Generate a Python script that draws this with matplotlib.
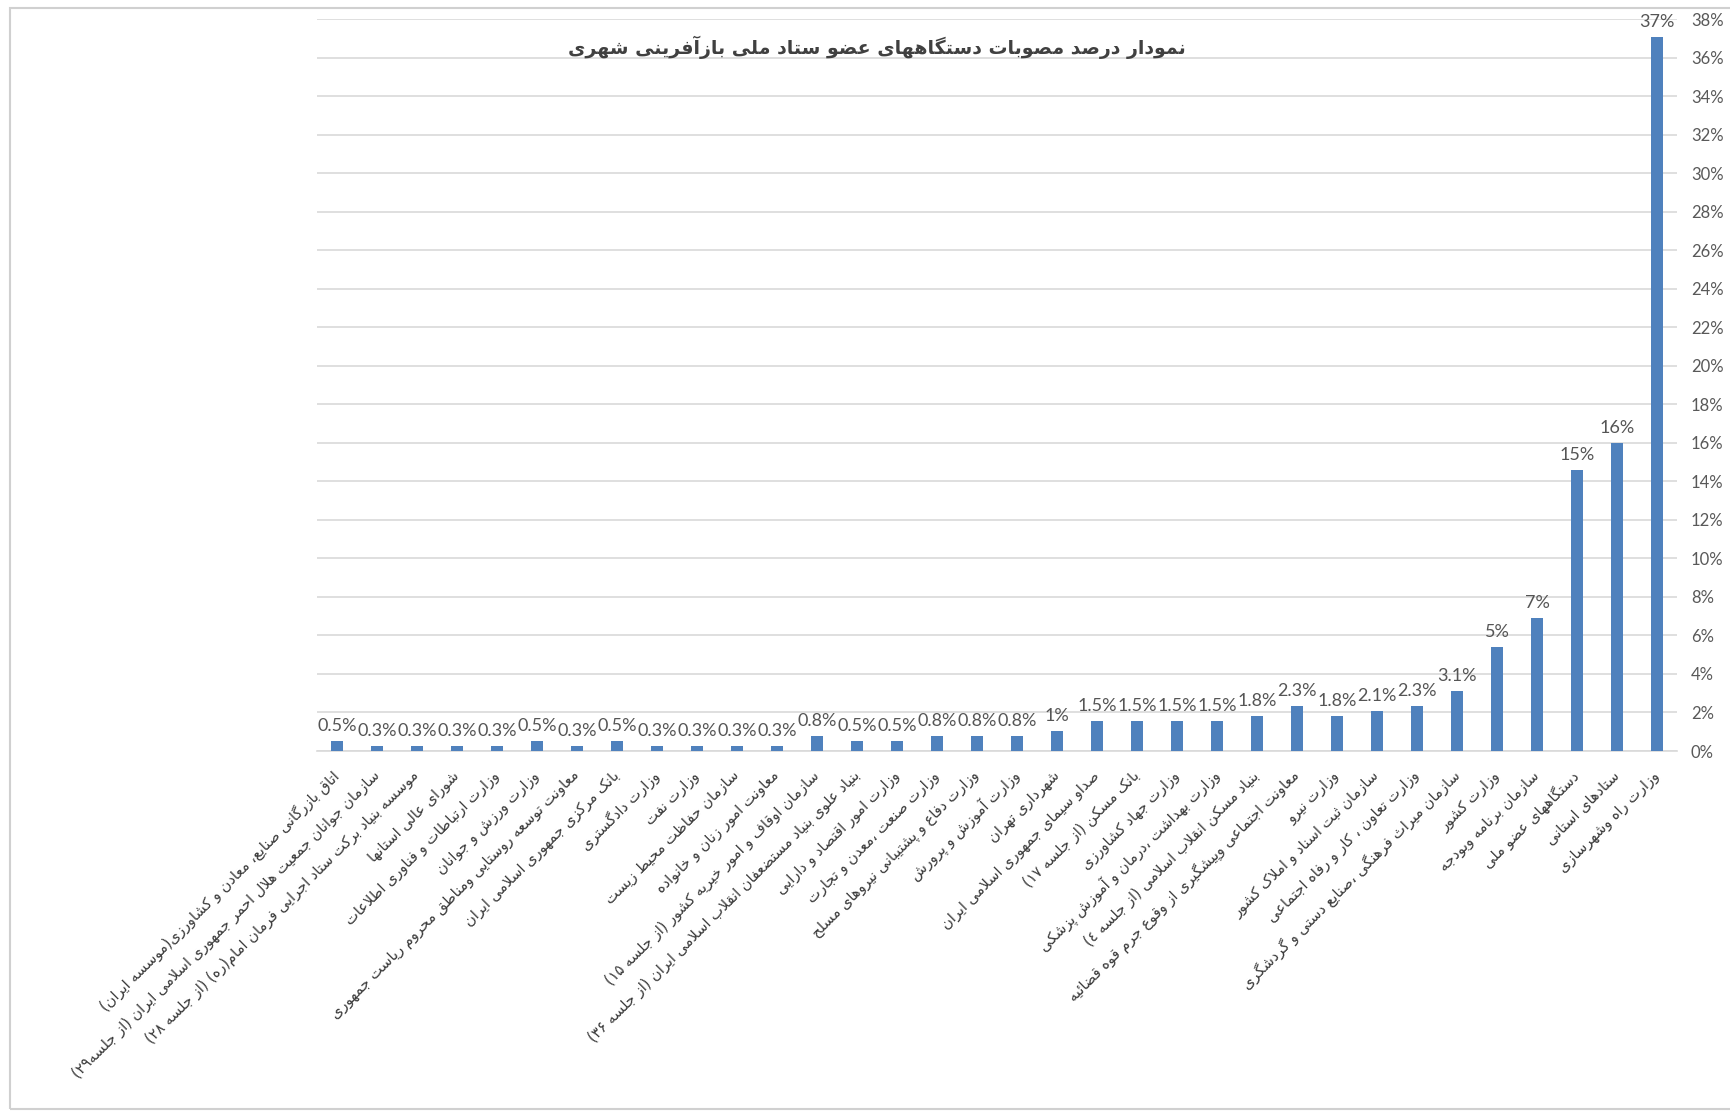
import re
import matplotlib
matplotlib.use("Agg")
import matplotlib.pyplot as plt
from matplotlib.patches import Rectangle

# chart data (percent of approvals per member body)
title = "نمودار درصد مصوبات دستگاههای عضو ستاد ملی بازآفرینی شهری"
categories = [
    "اتاق بازرگانی صنایع، معادن و کشاورزی(موسسه ایران)",
    "سازمان جوانان جمعیت هلال احمر جمهوری اسلامی ایران (از جلسه۲۹)",
    "موسسه بنیاد برکت ستاد اجرایی فرمان امام(ره) (از جلسه ۲۸)",
    "شورای عالی استانها",
    "وزارت ارتباطات و فناوری اطلاعات",
    "وزارت ورزش و جوانان",
    "معاونت توسعه روستایی ومناطق محروم ریاست جمهوری",
    "بانک مرکزی جمهوری اسلامی ایران",
    "وزارت دادگستری",
    "وزارت نفت",
    "سازمان حفاظت محیط زیست",
    "معاونت امور زنان و خانواده",
    "سازمان اوقاف و امور خیریه کشور (از جلسه ۱۵)",
    "بنیاد علوی بنیاد مستضعفان انقلاب اسلامی ایران (از جلسه ۳۶)",
    "وزارت امور اقتصاد و دارایی",
    "وزارت صنعت ،معدن و تجارت",
    "وزارت دفاع و پشتیبانی نیروهای مسلح",
    "وزارت آموزش و پرورش",
    "شهرداری تهران",
    "صداو سیمای جمهوری اسلامی ایران",
    "بانک مسکن (از جلسه ۱۷)",
    "وزارت جهاد کشاورزی",
    "وزارت بهداشت ،درمان و آموزش پزشکی",
    "بنیاد مسکن انقلاب اسلامی (از جلسه ٤)",
    "معاونت اجتماعی وپیشگیری از وقوع جرم قوه قضائیه",
    "وزارت نیرو",
    "سازمان ثبت اسناد و املاک کشور",
    "وزارت تعاون ، کار و رفاه اجتماعی",
    "سازمان میراث فرهنگی ،صنایع دستی و گردشگری",
    "وزارت کشور",
    "سازمان برنامه وبودجه",
    "دستگاههای عضو ملی",
    "ستادهای استانی",
    "وزارت راه وشهرسازی",
]
values = [0.52, 0.26, 0.26, 0.26, 0.26, 0.52, 0.26, 0.52, 0.26, 0.26, 0.26, 0.26,
          0.78, 0.52, 0.52, 0.78, 0.78, 0.78, 1.04, 1.56, 1.56, 1.56, 1.56, 1.82,
          2.34, 1.82, 2.08, 2.34, 3.12, 5.4, 6.9, 14.6, 16.0, 37.1]
value_labels = ["0.5%", "0.3%", "0.3%", "0.3%", "0.3%", "0.5%", "0.3%", "0.5%",
                "0.3%", "0.3%", "0.3%", "0.3%", "0.8%", "0.5%", "0.5%", "0.8%",
                "0.8%", "0.8%", "1%", "1.5%", "1.5%", "1.5%", "1.5%", "1.8%",
                "2.3%", "1.8%", "2.1%", "2.3%", "3.1%", "5%", "7%", "15%", "16%", "37%"]
yticks = list(range(0, 39, 2))

# matplotlib has no arabic shaping, so map letters to presentation forms
# (isolated, final, initial, medial)
FORMS = {
    "\u0622": (0xFE81, 0xFE82, None, None), "\u0623": (0xFE83, 0xFE84, None, None),
    "\u0624": (0xFE85, 0xFE86, None, None), "\u0625": (0xFE87, 0xFE88, None, None),
    "\u0626": (0xFE89, 0xFE8A, 0xFE8B, 0xFE8C), "\u0627": (0xFE8D, 0xFE8E, None, None),
    "\u0628": (0xFE8F, 0xFE90, 0xFE91, 0xFE92), "\u0629": (0xFE93, 0xFE94, None, None),
    "\u062A": (0xFE95, 0xFE96, 0xFE97, 0xFE98), "\u062B": (0xFE99, 0xFE9A, 0xFE9B, 0xFE9C),
    "\u062C": (0xFE9D, 0xFE9E, 0xFE9F, 0xFEA0), "\u062D": (0xFEA1, 0xFEA2, 0xFEA3, 0xFEA4),
    "\u062E": (0xFEA5, 0xFEA6, 0xFEA7, 0xFEA8), "\u062F": (0xFEA9, 0xFEAA, None, None),
    "\u0630": (0xFEAB, 0xFEAC, None, None), "\u0631": (0xFEAD, 0xFEAE, None, None),
    "\u0632": (0xFEAF, 0xFEB0, None, None), "\u0633": (0xFEB1, 0xFEB2, 0xFEB3, 0xFEB4),
    "\u0634": (0xFEB5, 0xFEB6, 0xFEB7, 0xFEB8), "\u0635": (0xFEB9, 0xFEBA, 0xFEBB, 0xFEBC),
    "\u0636": (0xFEBD, 0xFEBE, 0xFEBF, 0xFEC0), "\u0637": (0xFEC1, 0xFEC2, 0xFEC3, 0xFEC4),
    "\u0638": (0xFEC5, 0xFEC6, 0xFEC7, 0xFEC8), "\u0639": (0xFEC9, 0xFECA, 0xFECB, 0xFECC),
    "\u063A": (0xFECD, 0xFECE, 0xFECF, 0xFED0), "\u0641": (0xFED1, 0xFED2, 0xFED3, 0xFED4),
    "\u0642": (0xFED5, 0xFED6, 0xFED7, 0xFED8), "\u0643": (0xFED9, 0xFEDA, 0xFEDB, 0xFEDC),
    "\u0644": (0xFEDD, 0xFEDE, 0xFEDF, 0xFEE0), "\u0645": (0xFEE1, 0xFEE2, 0xFEE3, 0xFEE4),
    "\u0646": (0xFEE5, 0xFEE6, 0xFEE7, 0xFEE8), "\u0647": (0xFEE9, 0xFEEA, 0xFEEB, 0xFEEC),
    "\u0648": (0xFEED, 0xFEEE, None, None), "\u0649": (0xFEEF, 0xFEF0, None, None),
    "\u064A": (0xFEF1, 0xFEF2, 0xFEF3, 0xFEF4), "\u067E": (0xFB56, 0xFB57, 0xFB58, 0xFB59),
    "\u0686": (0xFB7A, 0xFB7B, 0xFB7C, 0xFB7D), "\u0698": (0xFB8A, 0xFB8B, None, None),
    "\u06A9": (0xFB8E, 0xFB8F, 0xFB90, 0xFB91), "\u06AF": (0xFB92, 0xFB93, 0xFB94, 0xFB95),
    "\u06CC": (0xFBFC, 0xFBFD, 0xFBFE, 0xFBFF),
}
LAM_ALEF = {"\u0622": (0xFEF5, 0xFEF6), "\u0623": (0xFEF7, 0xFEF8),
            "\u0625": (0xFEF9, 0xFEFA), "\u0627": (0xFEFB, 0xFEFC)}


def shape(text):
    out = []
    i = 0
    while i < len(text):
        c = text[i]
        prev = text[i - 1] if i > 0 else ""
        nxt = text[i + 1] if i + 1 < len(text) else ""
        join_prev = prev in FORMS and FORMS[prev][2] is not None
        if c == "\u0644" and nxt in LAM_ALEF:
            out.append(chr(LAM_ALEF[nxt][1 if join_prev else 0]))
            i += 2
            continue
        if c in FORMS:
            iso, fin, ini, med = FORMS[c]
            join_next = ini is not None and nxt in FORMS
            if join_prev and join_next:
                g = med
            elif join_prev:
                g = fin
            elif join_next:
                g = ini
            else:
                g = iso
            out.append(chr(g))
        else:
            out.append(c)
        i += 1
    #reverse to visual order, digit runs stay left-to-right
    runs = re.findall(r"[0-9\u0660-\u0669\u06F0-\u06F9]+|.", "".join(out), flags=re.S)
    mirror = {"(": ")", ")": "("}
    return "".join(mirror.get(r, r) for r in reversed(runs))


fig = plt.figure(figsize=(17.31, 11.11), dpi=100)
ax = fig.add_axes([317 / 1731, 1 - 751 / 1111, 1360 / 1731, (751 - 19.3) / 1111])

x = list(range(len(values)))
bars = ax.bar(x, values, width=0.31, color="#4f81bd", zorder=3)
ax.bar_label(bars, labels=value_labels, padding=5, fontsize=13,
             color="#555555", family="Lato")

ax.set_xlim(-0.5, len(values) - 0.5)
ax.set_ylim(0, 38)
ax.set_yticks(yticks)
ax.set_yticklabels([f"{t}%" for t in yticks], fontsize=12, color="#595959", family="Lato")
ax.yaxis.tick_right()
ax.tick_params(axis="y", length=0, pad=10)
ax.grid(axis="y", color="#d9d9d9", linewidth=1.2, zorder=0)

ax.set_xticks(x)
ax.set_xticklabels([shape(c) for c in categories], rotation=45, ha="right",
                   va="center", rotation_mode="anchor", fontsize=10.5,
                   color="#3a3a3a", family=["DejaVu Sans"])
ax.tick_params(axis="x", length=0, pad=16)

for s in ["top", "left", "right"]:
    ax.spines[s].set_visible(False)
ax.spines["bottom"].set_color("#d9d9d9")
ax.spines["bottom"].set_linewidth(1.2)

fig.text(877 / 1731, 1 - 47 / 1111, shape(title), ha="center", va="center",
         fontsize=13.6, fontweight="bold", color="#404040", family=["DejaVu Sans"])

# screenshot frame
fig.add_artist(Rectangle((10 / 1731, 2 / 1111), 1.1, 1 - 10 / 1111,
                         transform=fig.transFigure, fill=False,
                         edgecolor="#d0d0d0", linewidth=1.5))

fig.savefig("out.png", dpi=100)
